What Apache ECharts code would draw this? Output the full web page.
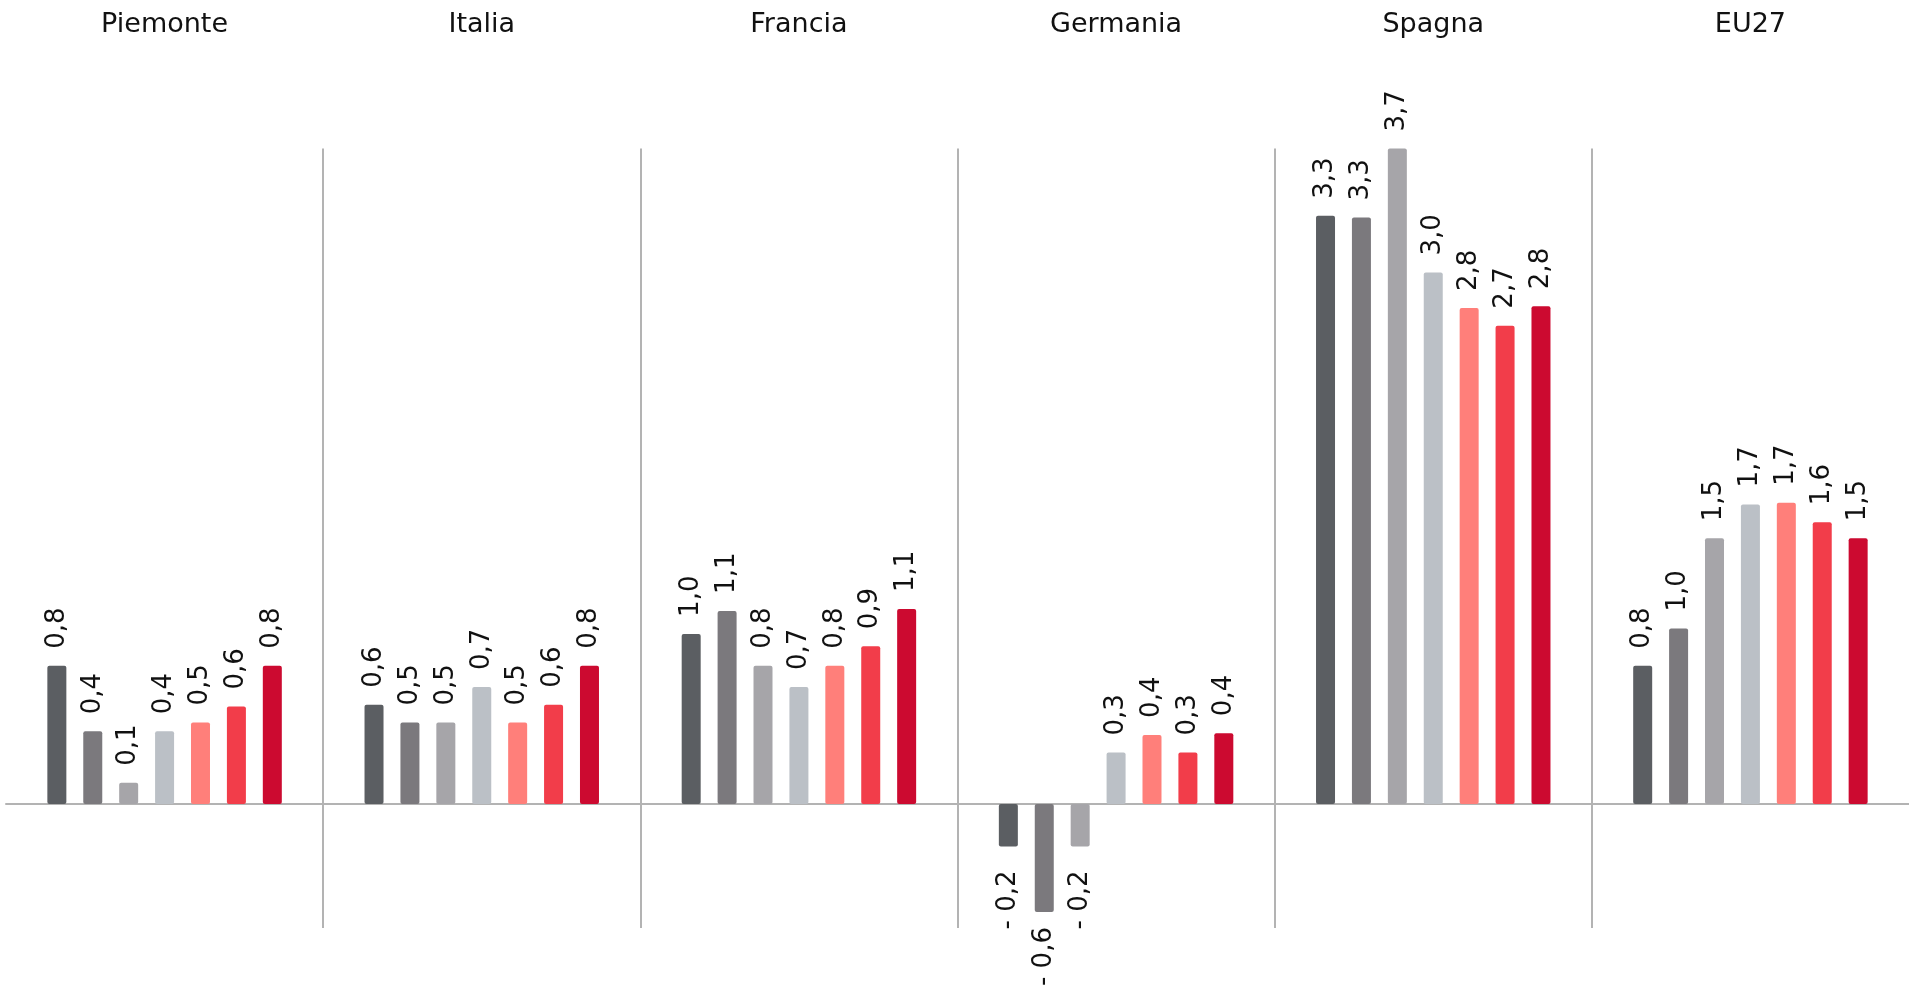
<!DOCTYPE html>
<html>
<head>
<meta charset="utf-8">
<script src="https://cdn.jsdelivr.net/npm/echarts@6/dist/echarts.min.js"></script>
<style>
html,body{margin:0;padding:0;background:#fff;}
#c{width:1909px;height:988px;}
</style>
</head>
<body>
<div id="c"></div>
<script>
const categories = ['Piemonte', 'Italia', 'Francia', 'Germania', 'Spagna', 'EU27'];
const seriesNames = ['Serie 1', 'Serie 2', 'Serie 3', 'Serie 4', 'Serie 5', 'Serie 6', 'Serie 7'];
// values per series, one per category
const s1 = [0.78, 0.56, 0.96, -0.24, 3.32, 0.78];
const s2 = [0.41, 0.46, 1.09, -0.61, 3.31, 0.99];
const s3 = [0.12, 0.46, 0.78, -0.24, 3.70, 1.50];
const s4 = [0.41, 0.66, 0.66, 0.29, 3.00, 1.69];
const s5 = [0.46, 0.46, 0.78, 0.39, 2.80, 1.70];
const s6 = [0.55, 0.56, 0.89, 0.29, 2.70, 1.59];
const s7 = [0.78, 0.78, 1.10, 0.40, 2.81, 1.50];
const seriesValues = [s1, s2, s3, s4, s5, s6, s7];
const colors = ['#5b5e62', '#7b797d', '#a6a5a9', '#bbc0c6', '#ff7f7a', '#f23d4a', '#cc0a30'];

function fmt(v) {
  const s = Math.abs(v).toFixed(1).replace('.', ',');
  return v < 0 ? '- ' + s : s;
}

const labelFont = {fontFamily: '"DejaVu Sans", sans-serif', fontSize: 26, color: '#111'};

const series = seriesValues.map((arr, i) => ({
  name: seriesNames[i],
  type: 'bar',
  xAxisIndex: 0,
  barWidth: 19,
  barGap: '89%',
  itemStyle: {color: colors[i], borderRadius: 2},
  label: Object.assign({
    show: true,
    position: 'top',
    rotate: 90,
    align: 'left',
    verticalAlign: 'middle',
    distance: 17,
    formatter: p => fmt(p.value)
  }, labelFont),
  data: arr.map(v => v < 0 ? {
    value: v,
    // long negative bars keep their label closer so it stays inside the picture
    label: {position: 'bottom', align: 'right', verticalAlign: 'middle', distance: v < -0.5 ? 15 : 24}
  } : v)
}));

const chart = echarts.init(document.getElementById('c'));
chart.setOption({
  animation: false,
  backgroundColor: '#fff',
  grid: {left: 6, right: -2, top: 148.5, bottom: 60, containLabel: false},
  xAxis: [{
    type: 'category',
    data: categories,
    position: 'top',
    axisLine: {show: false, onZero: false},
    axisTick: {show: false},
    axisLabel: {
      margin: 110,
      fontFamily: '"DejaVu Sans", sans-serif',
      fontSize: 27,
      color: '#111'
    },
    splitLine: {show: true, showMinLine: false, showMaxLine: false, lineStyle: {color: '#b3b3b3', width: 2}}
  }, {
    type: 'category',
    data: categories,
    position: 'bottom',
    axisLine: {show: true, onZero: true, lineStyle: {color: '#b3b3b3', width: 2}},
    axisTick: {show: false},
    axisLabel: {show: false},
    splitLine: {show: false}
  }],
  yAxis: {
    type: 'value',
    min: -0.7,
    max: 3.7,
    show: false,
    splitLine: {show: false}
  },
  series: series
});
</script>
</body>
</html>
